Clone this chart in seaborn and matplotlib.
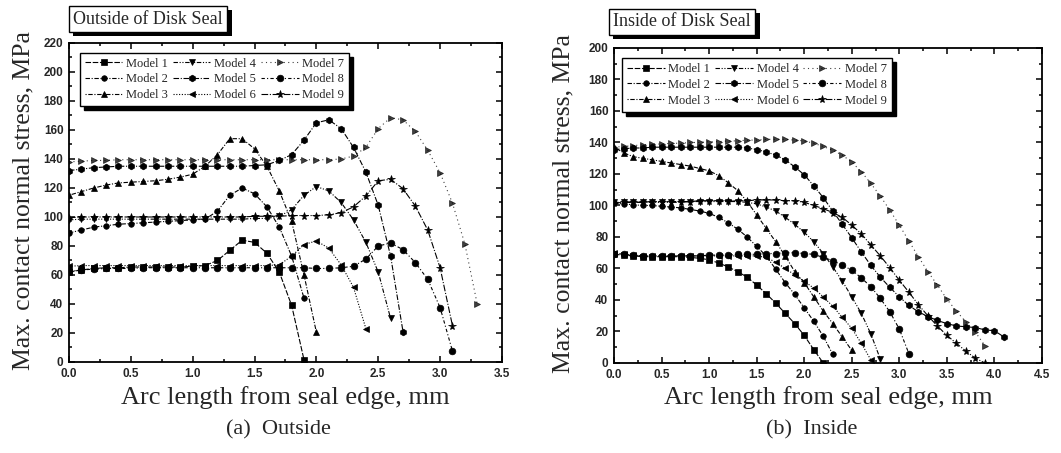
import pandas as pd
import matplotlib
matplotlib.use("Agg")
import matplotlib.pyplot as plt
import matplotlib.patheffects as pe
from matplotlib.ticker import MultipleLocator
import seaborn as sns

# shared arc-length grid, mm
X_GRID = [0.0, 0.1, 0.2, 0.3, 0.4, 0.5, 0.6, 0.7, 0.8, 0.9,
          1.0, 1.1, 1.2, 1.3, 1.4, 1.5, 1.6, 1.7, 1.8, 1.9,
          2.0, 2.1, 2.2, 2.3, 2.4, 2.5, 2.6, 2.7, 2.8, 2.9,
          3.0, 3.1, 3.2, 3.3, 3.4, 3.5, 3.6, 3.7, 3.8, 3.9,
          4.0, 4.1]
MODELS = ["Model 1", "Model 2", "Model 3", "Model 4", "Model 5",
          "Model 6", "Model 7", "Model 8", "Model 9"]

# (a) outside of disk seal, MPa
OUT_M1 = [62, 63.5, 64.5, 65, 65, 65.5, 65.5, 65.5, 65.5, 65.5, 66, 66.5, 70, 77, 84, 82.5, 75, 62, 39, 1.5]
OUT_M2 = [89, 91, 93, 94, 95, 95.5, 96, 96.5, 97, 97.5, 98, 98.5, 104, 115, 120, 116, 107, 93, 73, 44]
OUT_M3 = [115, 117.5, 120, 122, 123.5, 124, 124.5, 125, 126, 127.5, 129.5, 135, 143, 154, 154, 147, 135, 118, 97, 60, 20.5]
OUT_M4 = [98, 98.5, 98.5, 98.5, 98.5, 98.5, 98.5, 98.5, 98.5, 98.5, 98.5, 98.5, 98.5, 98.5, 98.5, 99, 99,
          100.5, 105, 115, 121, 118, 110, 98, 82.5, 62, 30]
OUT_M5 = [132, 133, 134, 134.5, 135, 135, 135, 135, 135, 135, 135, 135, 135, 135, 135, 135.5, 136,
          139, 143, 153, 165, 167, 161, 148, 131, 108, 73, 21]
OUT_M6 = [66, 66.5, 66.5, 66.5, 66.5, 66.5, 66.5, 66.5, 66.5, 66.5, 66.5, 66.5, 66.5, 66.5, 66.5, 66.5, 66.5,
          67, 73, 81, 83.5, 78.5, 67, 51.5, 23]
OUT_M7 = [138, 138.5, 139, 139, 139.5, 139.5, 139.5, 139.5, 139.5, 139.5, 139.5, 139.5, 139.5, 139.5, 139.5,
          139.5, 139.5, 139.5, 139.5, 139.5, 139.5, 139.5, 140,
          142, 148, 161, 168.5, 167, 159, 146, 130.5, 109.5, 81.5, 40]
OUT_M8 = [62.5, 63.5, 64, 64.5, 64.5, 64.5, 65, 65, 65, 65, 65, 65, 65, 65, 65, 65, 65, 65, 65, 65,
          64.5, 64.5, 65, 66, 71, 80, 82, 77.5, 68.5, 57, 37.5, 7.5]
OUT_M9 = [99.5, 100, 100, 100, 100, 100, 100, 100, 100, 100, 100, 100, 100, 100, 100, 100.5, 100.5, 100.5,
          101, 101, 101, 101.5, 103, 107, 114.5, 125, 126, 119.5, 107.5, 91, 65, 25]

# (b) inside of disk seal, MPa
IN_M1 = [69, 68.5, 68, 67.5, 67.5, 67.5, 67.5, 67.5, 67, 66.5, 65.5, 63.5, 61, 58, 54.5, 49.5, 44, 38,
         31.5, 25, 17.5, 8.5, 0]
IN_M2 = [101.5, 101, 100.5, 100, 100, 99.5, 99, 98.5, 97.5, 96.5, 95, 92.5, 89, 85, 80, 74, 68, 59.5,
         51, 43.5, 35, 26.5, 17, 5.5]
IN_M3 = [137, 133.5, 131, 130, 129, 128, 127, 126, 125, 123.5, 122, 119, 114.5, 109.5, 102.5, 94, 85.5,
         77, 68, 58, 51, 42, 33, 25, 16.5, 8]
IN_M4 = [102, 102, 102, 102, 102, 102, 102, 102, 102.5, 102.5, 102.5, 102.5, 102.5, 102.5, 102, 101, 99,
         96.5, 92.5, 88, 83, 77, 69.5, 61, 52, 42, 31.5, 18.5, 2.5]
IN_M5 = [135.5, 136, 136.5, 136.5, 137, 137, 137, 137, 137, 137, 137, 137, 137, 137, 136.5, 135.5, 134,
         132, 129, 124.5, 119.5, 112.5, 105, 96.5, 88, 79.5, 70.5, 62, 54.5, 48, 42, 36.5, 32.5, 29.5,
         27, 25, 23.5, 23, 22.5, 21, 20.5, 16.5]
IN_M6 = [70, 69, 68.5, 68, 68, 68, 68, 68, 68, 68, 68, 68, 68, 68, 68, 68, 67, 64, 60, 56, 52, 47.5,
         42, 36, 29, 22, 12.5, 2]
IN_M7 = [137, 137.5, 138, 138.5, 139, 139, 139.5, 139.5, 140, 140, 140.5, 140.5, 141, 141, 141.5, 141.5,
         142, 142, 142, 141.5, 141, 139.5, 137.5, 135, 132, 127.5, 121.5, 114, 106, 97, 87.5, 77.5,
         67.5, 58, 49.5, 40.5, 33, 26, 19.5, 11]
IN_M8 = [69.5, 69, 68.5, 68, 68, 68, 68, 68, 68, 68, 68.5, 68.5, 68.5, 69, 69, 69, 69.5, 69.5, 70, 70,
         69.5, 69, 67, 65, 62, 59, 54, 48.5, 41, 32.5, 21.5, 6]
IN_M9 = [101.5, 102, 102, 102, 102.5, 102.5, 102.5, 102.5, 102.5, 103, 103, 103, 103, 103, 103, 103.5,
         103.5, 103.5, 103, 103, 102, 100, 98, 95.5, 92.5, 87.5, 82, 75, 68, 60.5, 52.5, 45, 37, 30,
         23.5, 17.5, 12.5, 7.5, 3, 0]

OUTSIDE = [OUT_M1, OUT_M2, OUT_M3, OUT_M4, OUT_M5, OUT_M6, OUT_M7, OUT_M8, OUT_M9]
INSIDE = [IN_M1, IN_M2, IN_M3, IN_M4, IN_M5, IN_M6, IN_M7, IN_M8, IN_M9]


def to_frame(series):
    rows = []
    for name, ys in zip(MODELS, series):
        for x, y in zip(X_GRID, ys):
            rows.append((name, x, y))
    return pd.DataFrame(rows, columns=["model", "arc", "stress"])


df_out = to_frame(OUTSIDE)
df_in = to_frame(INSIDE)

markers = {"Model 1": "s", "Model 2": "o", "Model 3": "^", "Model 4": "v", "Model 5": "h",
           "Model 6": "<", "Model 7": ">", "Model 8": "o", "Model 9": "*"}
msize = {"Model 1": 4.2, "Model 2": 4, "Model 3": 4.5, "Model 4": 4.8, "Model 5": 4.8,
         "Model 6": 4.5, "Model 7": 4.5, "Model 8": 4.8, "Model 9": 5.8}
lstyles = {"Model 1": (0, (5, 1.5)), "Model 2": (0, (4, 1.5, 1, 1.5)),
           "Model 3": (0, (1, 1.5, 4, 1.5)), "Model 4": (0, (4, 1.5, 1, 1.5, 1, 1.5)),
           "Model 5": (0, (5, 1.5, 1, 1.5)), "Model 6": (0, (1, 1.5)),
           "Model 7": (0, (1, 3)), "Model 8": (0, (3, 2, 1, 2)),
           "Model 9": (0, (6, 1.5, 1, 1.5))}

sns.set_theme(style="ticks")
plt.rcParams["font.family"] = ["Liberation Serif", "DejaVu Serif"]
plt.rcParams["axes.linewidth"] = 1.3

fig = plt.figure(figsize=(10.61, 4.53), dpi=100)
ax_a = fig.add_axes([0.0650, 0.2009, 0.4081, 0.7042])
ax_b = fig.add_axes([0.5787, 0.1987, 0.4034, 0.6954])


def draw(ax, d, xmax, ymax, title, tx, ty, leg_anchor, ylab_x, xlab_y):
    for m in MODELS:
        sub = d[d["model"] == m]
        sns.lineplot(data=sub, x="arc", y="stress", ax=ax, color="black", estimator=None,
                     sort=False, marker=markers[m], markersize=msize[m], mec="black", mew=0.5,
                     linestyle=lstyles[m], linewidth=0.8,
                     alpha=0.75 if m == "Model 7" else 1.0, label=m)
    ax.set_xlim(0, xmax)
    ax.set_ylim(0, ymax)
    ax.xaxis.set_major_locator(MultipleLocator(0.5))
    ax.xaxis.set_minor_locator(MultipleLocator(0.25))
    ax.yaxis.set_major_locator(MultipleLocator(20))
    ax.yaxis.set_minor_locator(MultipleLocator(10))
    ax.tick_params(which="both", direction="in", top=True, right=True, width=1.1, color="black")
    ax.tick_params(which="major", length=4, pad=4)
    ax.tick_params(which="minor", length=2)
    for lab in ax.get_xticklabels() + ax.get_yticklabels():
        lab.set_fontfamily(["Liberation Sans", "DejaVu Sans"])
        lab.set_fontweight("bold")
        lab.set_fontsize(8.5)
    for s in ax.spines.values():
        s.set_color("black")
    ax.set_xlabel("Arc length from seal edge, mm", fontsize=19)
    ax.set_ylabel("Max. contact normal stress, MPa", fontsize=18.5)
    ax.xaxis.set_label_coords(0.5, xlab_y)
    ax.yaxis.set_label_coords(ylab_x, 0.505)
    handles, labels = ax.get_legend_handles_labels()
    leg = ax.legend(handles, labels, ncol=3, loc="upper left", bbox_to_anchor=leg_anchor,
                    borderaxespad=0, fontsize=9, handlelength=3.0, handletextpad=0.3,
                    columnspacing=0.4, labelspacing=0.3, borderpad=0.4, fancybox=False,
                    edgecolor="black", framealpha=1,
                    shadow={"color": "black", "alpha": 1, "ox": 3, "oy": -3})
    leg.get_frame().set_linewidth(1.0)
    t = fig.text(tx, ty, title, fontsize=13, ha="left", va="center",
                 bbox=dict(boxstyle="square,pad=0.25", fc="white", ec="black", lw=1))
    t.get_bbox_patch().set_path_effects(
        [pe.withSimplePatchShadow(offset=(3, -3), shadow_rgbFace="black", alpha=1)])


draw(ax_a, df_out, 3.5, 220, "Outside of Disk Seal", 0.069, 0.958, (0.025, 0.97), -0.080, -0.075)
draw(ax_b, df_in, 4.5, 200, "Inside of Disk Seal", 0.578, 0.952, (0.019, 0.968), -0.093, -0.073)

fig.text(0.262, 0.051, "(a)  Outside", fontsize=16, ha="center", va="center")
fig.text(0.765, 0.051, "(b)  Inside", fontsize=16, ha="center", va="center")

fig.savefig("out.png", dpi=100)
